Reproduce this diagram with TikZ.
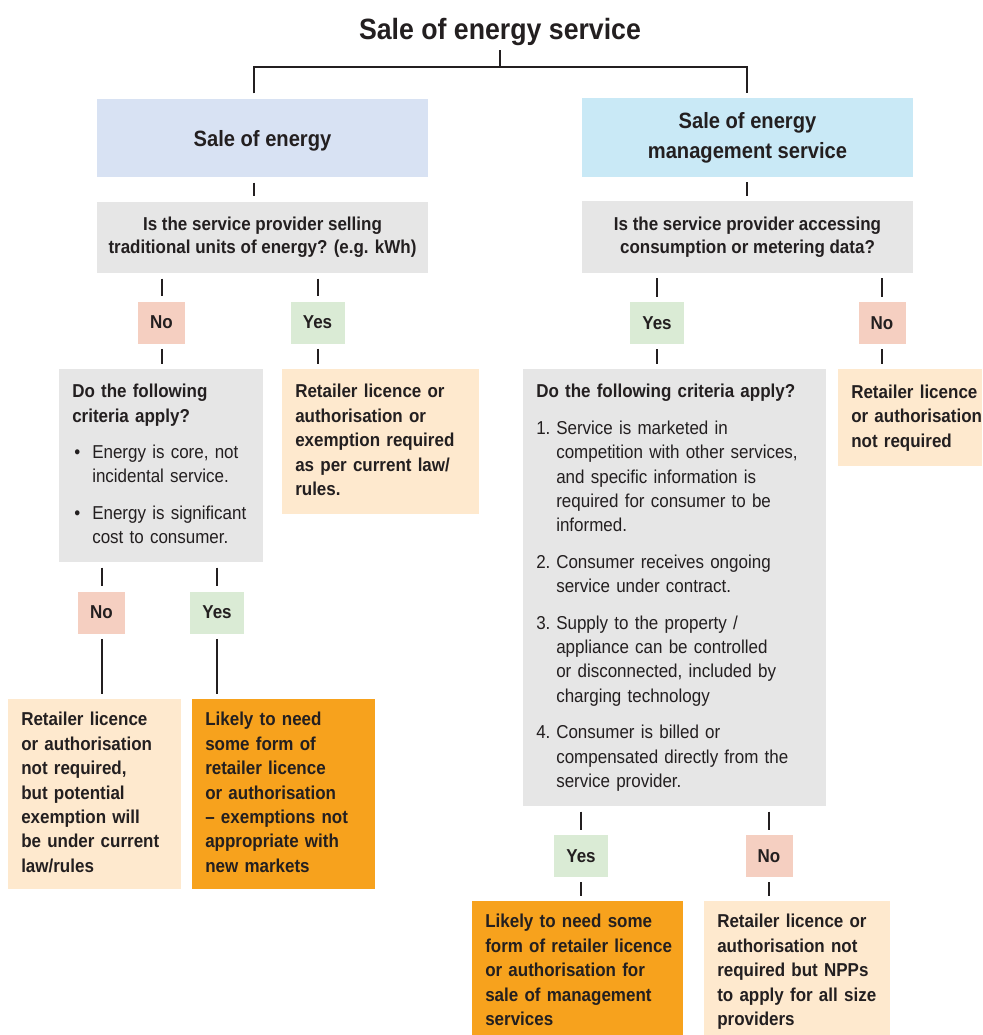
\documentclass[tikz,border=0pt]{standalone}
\usepackage{fontspec}
\setmainfont{Liberation Sans}[FakeStretch=0.91]
\usepackage{xcolor}
\usetikzlibrary{positioning}
\definecolor{inkText}{HTML}{231F20}
\definecolor{energyBlue}{HTML}{D8E2F3}
\definecolor{serviceCyan}{HTML}{C9E9F6}
\definecolor{questionGrey}{HTML}{E6E6E6}
\definecolor{answerNo}{HTML}{F5CFC1}
\definecolor{answerYes}{HTML}{DAEBD5}
\definecolor{outcomeLight}{HTML}{FEE9CE}
\definecolor{outcomeDark}{HTML}{F7A21D}
\newcommand\boxlines[1]{\begin{tabular}{@{}l@{}}#1\end{tabular}}
\newcommand\itemmark[1]{\makebox[15pt][l]{#1}}

\begin{document}
\begin{tikzpicture}[
  x=0.75pt, y=-0.75pt,
  every node/.style={text=inkText, inner sep=0pt},
  heading/.style={
    font=\bfseries\fontsize{16.6}{22.5}\selectfont,
    align=center,
    minimum width=248.25pt,
    minimum height=59pt,
  },
  question/.style={
    fill=questionGrey,
    font=\bfseries\fontsize{14}{17}\selectfont,
    align=center,
    minimum width=248.25pt,
    minimum height=53.75pt,
  },
  answer/.style={
    font=\bfseries\fontsize{14}{17}\selectfont,
    minimum height=31.5pt,
  },
  yesanswer/.style={answer, fill=answerYes, minimum width=40.5pt},
  noanswer/.style={answer, fill=answerNo, minimum width=35.25pt},
  textbox/.style={anchor=north west, align=left, inner xsep=9.75pt},
  criteria/.style={
    textbox,
    fill=questionGrey,
    font=\fontsize{14}{18.3}\selectfont,
  },
  outcome/.style={textbox, font=\bfseries\fontsize{14}{18.3}\selectfont},
  softoutcome/.style={outcome, fill=outcomeLight},
  strongoutcome/.style={outcome, fill=outcomeDark},
  link/.style={
    draw=inkText,
    line width=1.5pt,
    shorten <=3.75pt,
    shorten >=3.75pt,
  },
]
\useasboundingbox (0,0) rectangle (982,1035);
\clip (0,0) rectangle (982,1035);

\node[font=\bfseries\fontsize{22}{26}\selectfont, anchor=base] (title) at (500,39)
  {Sale of energy service};
\coordinate (split) at (500,67);
\coordinate (lsplit) at (254,67);
\coordinate (rsplit) at (747,67);

% left branch: sale of energy
\node[heading, fill=energyBlue, text depth=0pt] (soe) at (262.5,138) {Sale of energy};
\node[question] (q1) at (262.5,237.5)
  {Is the service provider selling\\traditional units of energy? (e.g. kWh)};
\node[noanswer] (no1) at (161.5,322.5) {No};
\node[yesanswer] (yes1) at (317.5,322.5) {Yes};
\node[criteria, minimum height=144.75pt, text width=133.5pt] (crit1) at (59,369) {%
  \begin{tabular}{@{}l@{}l@{}}
  \multicolumn{2}{@{}l@{}}{\bfseries Do the following}\\
  \multicolumn{2}{@{}l@{}}{\bfseries criteria apply?}\\[9pt]
  \itemmark{\hspace{1.5pt}\textbullet} & Energy is core, not\\
   & incidental service.\\[9pt]
  \itemmark{\hspace{1.5pt}\textbullet} & Energy is significant\\
   & cost to consumer.
  \end{tabular}};
\node[softoutcome, minimum height=108.75pt, text width=128.25pt] (ret1) at (282,369)
  {\boxlines{Retailer licence or\\authorisation or\\exemption required\\as per current law/\\rules.}};
\node[noanswer] (no3) at (101.5,612.5) {No};
\node[yesanswer] (yes3) at (217,612.5) {Yes};
\node[softoutcome, minimum height=142.5pt, text width=110.25pt] (out1) at (8,699)
  {\boxlines{Retailer licence\\or authorisation\\not required,\\but potential\\exemption will\\be under current\\law/rules}};
\node[strongoutcome, minimum height=142.5pt, text width=117.75pt] (out2) at (192,699)
  {\boxlines{Likely to need\\some form of\\retailer licence\\or authorisation\\-- exemptions not\\appropriate with\\new markets}};

% right branch: energy management service
\node[heading, fill=serviceCyan] (soems) at (747.5,137.5) {Sale of energy\\management service};
\node[question] (q2) at (747.5,237)
  {Is the service provider accessing\\consumption or metering data?};
\node[yesanswer] (yes2) at (657,323) {Yes};
\node[noanswer] (no2) at (882,323) {No};
\node[criteria, minimum height=327.75pt, text width=207.75pt] (crit2) at (523,369) {%
  \begin{tabular}{@{}l@{}l@{}}
  \multicolumn{2}{@{}l@{}}{\bfseries Do the following criteria apply?}\\[9pt]
  \itemmark{1.} & Service is marketed in\\
   & competition with other services,\\
   & and specific information is\\
   & required for consumer to be\\
   & informed.\\[9pt]
  \itemmark{2.} & Consumer receives ongoing\\
   & service under contract.\\[9pt]
  \itemmark{3.} & Supply to the property /\\
   & appliance can be controlled\\
   & or disconnected, included by\\
   & charging technology\\[9pt]
  \itemmark{4.} & Consumer is billed or\\
   & compensated directly from the\\
   & service provider.
  \end{tabular}};
\node[softoutcome, minimum height=72.75pt, text width=88.5pt] (ret2) at (838,369)
  {\boxlines{Retailer licence\\or authorisation\\not required}};
\node[yesanswer] (yes4) at (581,856) {Yes};
\node[noanswer] (no4) at (769,856) {No};
\node[strongoutcome, minimum height=105.75pt, text width=138.75pt] (out3) at (472,901)
  {\boxlines{Likely to need some\\form of retailer licence\\or authorisation for\\sale of management\\services}};
\node[softoutcome, minimum height=105.75pt, text width=120pt] (out4) at (704,901)
  {\boxlines{Retailer licence or\\authorisation not\\required but NPPs\\to apply for all size\\providers}};

% connectors
\draw[link, shorten >=0pt] (title.south) -- (split);
\draw[link] (soe.north -| lsplit) -- (lsplit) -- (rsplit) -- (soems.north -| rsplit);
\draw[link] (soe.south -| lsplit) -- (q1.north -| lsplit);
\draw[link] (soems.south -| rsplit) -- (q2.north -| rsplit);
\draw[link] (q1.south -| no1) -- (no1.north);
\draw[link] (q1.south -| yes1) -- (yes1.north);
\draw[link] (q2.south -| yes2) -- (yes2.north);
\draw[link] (q2.south -| no2) -- (no2.north);
\draw[link] (no1.south) -- (no1.south |- crit1.north);
\draw[link] (yes1.south) -- (yes1.south |- ret1.north);
\draw[link] (yes2.south) -- (yes2.south |- crit2.north);
\draw[link] (no2.south) -- (no2.south |- ret2.north);
\draw[link] (crit1.south -| no3) -- (no3.north);
\draw[link] (crit1.south -| yes3) -- (yes3.north);
\draw[link] (no3.south) -- (no3.south |- out1.north);
\draw[link] (yes3.south) -- (yes3.south |- out2.north);
\draw[link] (crit2.south -| yes4) -- (yes4.north);
\draw[link] (crit2.south -| no4) -- (no4.north);
\draw[link] (yes4.south) -- (yes4.south |- out3.north);
\draw[link] (no4.south) -- (no4.south |- out4.north);
\end{tikzpicture}
\end{document}
